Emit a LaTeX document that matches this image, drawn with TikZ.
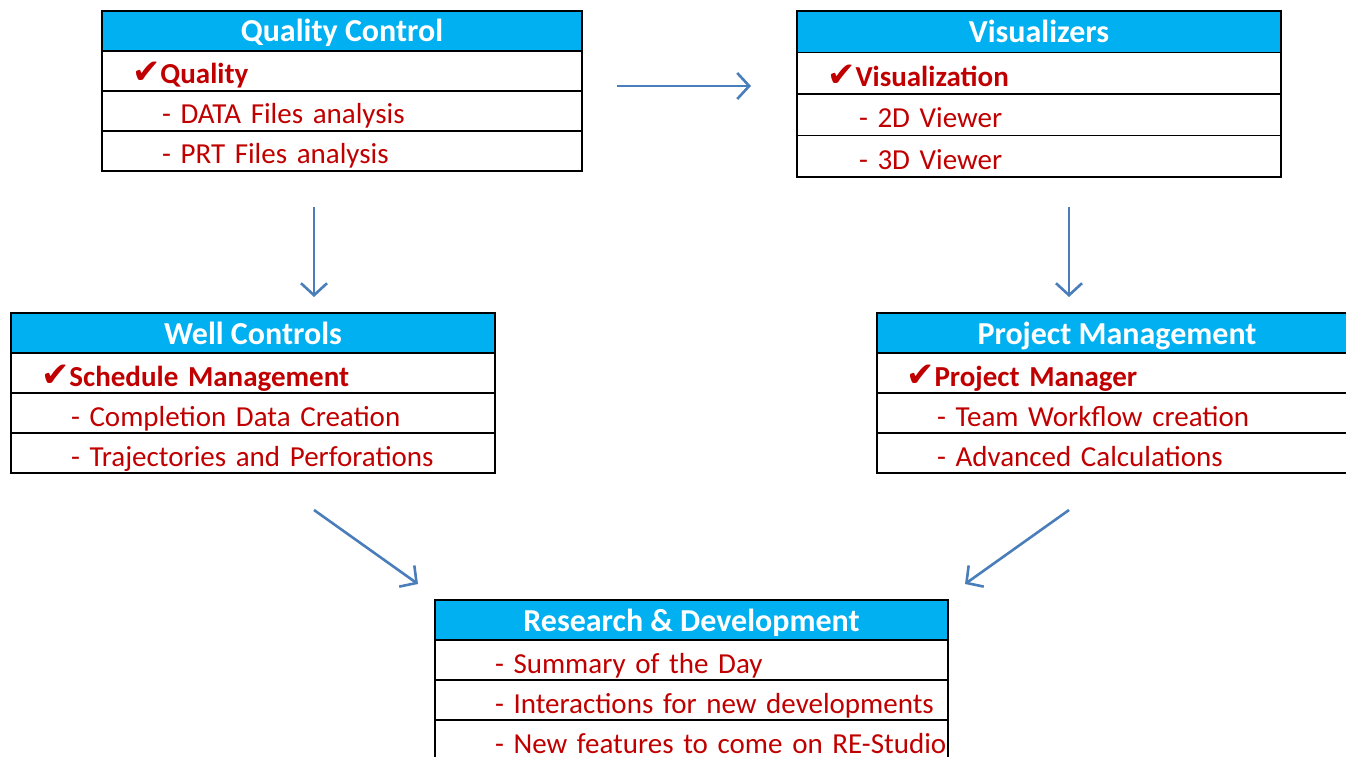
\documentclass[tikz,border=0pt]{standalone}
\usepackage{fontspec}
\setmainfont{Carlito}
\newfontfamily\tickfont{DejaVu Sans}
\usetikzlibrary{positioning,arrows.meta}
\definecolor{headblue}{RGB}{0,176,240}
\definecolor{itemred}{RGB}{192,0,0}
\definecolor{arrowblue}{RGB}{74,126,187}
\newcommand{\tick}{{\tickfont\fontsize{34}{34}\selectfont\char"2714}}
\tikzset{
  boxhead/.style={draw=black, line width=1.2pt, fill=headblue, text=white,
    font=\bfseries\fontsize{32}{34}\selectfont, minimum width=#1, minimum height=40pt,
    text height=22pt, text depth=0pt, inner sep=0pt, outer sep=0pt, anchor=north west},
  boxrow/.style={draw=black, line width=1.2pt, text=itemred,
    font=\fontsize{29}{31}\selectfont, text width=#1, minimum height=40pt,
    text height=26pt, text depth=0pt, align=left, inner sep=0pt, outer sep=0pt},
  flow/.style={draw=arrowblue, line width=2.6pt,
    -{Straight Barb[length=12pt,width=26pt,line width=2.6pt]}}
}
\begin{document}
\begin{tikzpicture}[x=1pt,y=1pt]
  \clip (0,0) rectangle (1346,-757);

  % Quality Control
  \node[boxhead=480pt] (QC) at (102,-11) {Quality Control};
  \node[boxrow=480pt, below=0pt of QC] (QC1) {\hspace*{30pt}\textbf{\tick Quality}};
  \node[boxrow=480pt, below=0pt of QC1] (QC2) {\hspace*{60pt}- DATA Files analysis};
  \node[boxrow=480pt, below=0pt of QC2] (QC3) {\hspace*{60pt}- PRT Files analysis};

  % Visualizers
  \node[boxhead=484pt, minimum height=41.5pt] (VIS) at (797,-11) {Visualizers};
  \node[boxrow=484pt, minimum height=41.5pt, below=0pt of VIS] (VIS1) {\hspace*{30pt}\textbf{\tick Visualization}};
  \node[boxrow=484pt, minimum height=41.5pt, below=0pt of VIS1] (VIS2) {\hspace*{62pt}- 2D Viewer};
  \node[boxrow=484pt, minimum height=41.5pt, below=0pt of VIS2] (VIS3) {\hspace*{62pt}- 3D Viewer};

  % Well Controls
  \node[boxhead=484pt] (WC) at (11,-313) {Well Controls};
  \node[boxrow=484pt, below=0pt of WC] (WC1) {\hspace*{30pt}\textbf{\tick Schedule Management}};
  \node[boxrow=484pt, below=0pt of WC1] (WC2) {\hspace*{60pt}- Completion Data Creation};
  \node[boxrow=484pt, below=0pt of WC2] (WC3) {\hspace*{60pt}- Trajectories and Perforations};

  % Project Management
  \node[boxhead=480pt] (PM) at (877,-313) {Project Management};
  \node[boxrow=480pt, below=0pt of PM] (PM1) {\hspace*{29pt}\textbf{\tick Project Manager}};
  \node[boxrow=480pt, below=0pt of PM1] (PM2) {\hspace*{60pt}- Team Workflow creation};
  \node[boxrow=480pt, below=0pt of PM2] (PM3) {\hspace*{60pt}- Advanced Calculations};

  % Research & Development
  \node[boxhead=513pt] (RD) at (435,-600) {Research \& Development};
  \node[boxrow=513pt, below=0pt of RD] (RD1) {\hspace*{60pt}- Summary of the Day};
  \node[boxrow=513pt, below=0pt of RD1] (RD2) {\hspace*{60pt}- Interactions for new developments};
  \node[boxrow=513pt, below=0pt of RD2] (RD3) {\hspace*{60pt}- New features to come on RE-Studio};

  % Arrow ends
  \coordinate (a1) at (617,-86);   \coordinate (b1) at (751,-86);
  \coordinate (a2) at (314,-207);  \coordinate (b2) at (314,-297);
  \coordinate (a3) at (1069,-207); \coordinate (b3) at (1069,-297);
  \coordinate (a4) at (314,-510);  \coordinate (b4) at (418,-584);
  \coordinate (a5) at (1069,-510); \coordinate (b5) at (965,-584);

  % Draw arrows
  \draw[flow] (a1) -- (b1);
  \draw[flow] (a2) -- (b2);
  \draw[flow] (a3) -- (b3);
  \draw[flow] (a4) -- (b4);
  \draw[flow] (a5) -- (b5);
\end{tikzpicture}
\end{document}
